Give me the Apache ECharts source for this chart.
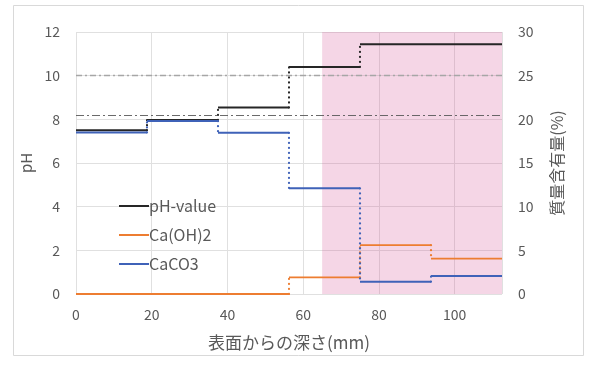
<!DOCTYPE html>
<html>
<head>
<meta charset="utf-8">
<script src="https://cdn.jsdelivr.net/npm/echarts@6/dist/echarts.min.js"></script>
<style>
  html, body { margin: 0; padding: 0; background: #fff; }
  #chart { width: 590px; height: 365px; }
</style>
</head>
<body>
<div id="chart"></div>
<script>
// Layer boundaries (depth from surface, mm)
const depthEdges = [0, 18.75, 37.5, 56.25, 75, 93.75, 112.5];
// pH per layer (left axis)
const phValues = [7.5, 7.97, 8.54, 10.4, 11.44, 11.44];
// Ca(OH)2 content per layer, mass % (right axis)
const caOH2Values = [0, 0, 0, 1.9, 5.6, 4.05];
// CaCO3 content per layer, mass % (right axis)
const caCO3Values = [18.5, 19.8, 18.45, 12.1, 1.4, 2.05];
// Reference pH levels (dash-dot lines)
const refLevels = [10, 8.2];
// Shaded depth range
const shadedRange = [65, 112.5];

const xTicks = [0, 20, 40, 60, 80, 100];

const FONT = '"Noto Sans CJK JP", "Noto Sans", sans-serif';
const TXT = '#595959';

// Horizontal segment per layer, broken between layers
function segments(vals) {
  const out = [];
  for (let i = 0; i < vals.length; i++) {
    out.push([depthEdges[i], vals[i]]);
    out.push([depthEdges[i + 1], vals[i]]);
    out.push([depthEdges[i + 1], '-']);
  }
  return out;
}
// Vertical connectors at layer boundaries
function connectors(vals) {
  const out = [];
  for (let i = 1; i < vals.length; i++) {
    if (vals[i] !== vals[i - 1]) {
      out.push([depthEdges[i], vals[i - 1]]);
      out.push([depthEdges[i], vals[i]]);
      out.push([depthEdges[i], '-']);
    }
  }
  return out;
}

const colPH = '#262626';
const colOH = '#ED7D31';
const colCO = '#3F62B8';

function stepSeries(name, vals, color, yIdx, width, extra) {
  return [
    Object.assign({
      name: name, type: 'line', yAxisIndex: yIdx, data: segments(vals),
      showSymbol: false, connectNulls: false, animation: false,
      lineStyle: { color: color, width: width }, itemStyle: { color: color },
      z: 3
    }, extra || {}),
    {
      name: name + '_v', type: 'line', yAxisIndex: yIdx, data: connectors(vals),
      showSymbol: false, connectNulls: false, animation: false,
      lineStyle: { color: color, width: 2.2, type: [0.1, 4.9], cap: 'round' },
      itemStyle: { color: color }, z: 3
    }
  ];
}

const chart = echarts.init(document.getElementById('chart'), null, { renderer: 'canvas' });

const series = [].concat(
  stepSeries('pH-value', phValues, colPH, 0, 2, {
    markArea: {
      silent: true,
      itemStyle: { color: 'rgba(210, 70, 140, 0.22)' },
      data: [[{ xAxis: shadedRange[0] }, { xAxis: shadedRange[1] }]]
    },
    markLine: {
      silent: true, symbol: 'none', label: { show: false },
      data: [
        { yAxis: refLevels[0], lineStyle: { color: '#A6A6A6', width: 1.3, type: [6, 3, 2, 3] } },
        { yAxis: refLevels[1], lineStyle: { color: '#595959', width: 0.9, type: [8, 3, 2, 3] } }
      ]
    }
  }),
  stepSeries('Ca(OH)2', caOH2Values, colOH, 1, 1.8),
  stepSeries('CaCO3', caCO3Values, colCO, 1, 2)
);

chart.setOption({
  animation: false,
  backgroundColor: '#fff',
  graphic: [{
    type: 'rect', shape: { x: 13.5, y: 5.5, width: 570, height: 350 },
    style: { fill: 'none', stroke: '#D9D9D9', lineWidth: 1 }, silent: true
  }],
  grid: { left: 76, right: 88, top: 32, bottom: 71 },
  legend: {
    data: ['pH-value', 'Ca(OH)2', 'CaCO3'],
    orient: 'vertical', left: 114, top: 193,
    icon: 'rect', itemWidth: 30, itemHeight: 2, itemGap: 13,
    textStyle: { fontFamily: FONT, fontSize: 16, color: TXT, padding: [0, 0, 0, -5] }
  },
  xAxis: {
    type: 'value', min: depthEdges[0], max: depthEdges[depthEdges.length - 1], interval: 20,
    name: '表面からの深さ(mm)', nameLocation: 'middle', nameGap: 40,
    nameTextStyle: { fontFamily: FONT, fontSize: 17, color: TXT },
    axisLine: { show: false }, axisTick: { show: false },
    axisLabel: {
      fontFamily: FONT, fontSize: 14, color: TXT, margin: 14,
      formatter: v => xTicks.includes(v) ? String(v) : ''
    },
    splitLine: { show: true, lineStyle: { color: '#E0E0E0', width: 1 } }
  },
  yAxis: [{
    type: 'value', min: 0, max: 12, interval: 2, position: 'left',
    name: 'pH', nameLocation: 'middle', nameGap: 38, nameRotate: 90,
    nameTextStyle: { fontFamily: FONT, fontSize: 15, color: TXT },
    axisLine: { show: false }, axisTick: { show: false },
    axisLabel: { fontFamily: FONT, fontSize: 14, color: TXT, margin: 16 },
    splitLine: { show: true, lineStyle: { color: '#E0E0E0', width: 1 } }
  }, {
    type: 'value', min: 0, max: 30, interval: 5, position: 'right',
    name: '質量含有量(%)', nameLocation: 'middle', nameGap: 47, nameRotate: 90,
    nameTextStyle: { fontFamily: FONT, fontSize: 16, color: TXT },
    axisLine: { show: false }, axisTick: { show: false },
    axisLabel: { fontFamily: FONT, fontSize: 14, color: TXT, margin: 16 },
    splitLine: { show: false }
  }],
  series: series
});
</script>
</body>
</html>
